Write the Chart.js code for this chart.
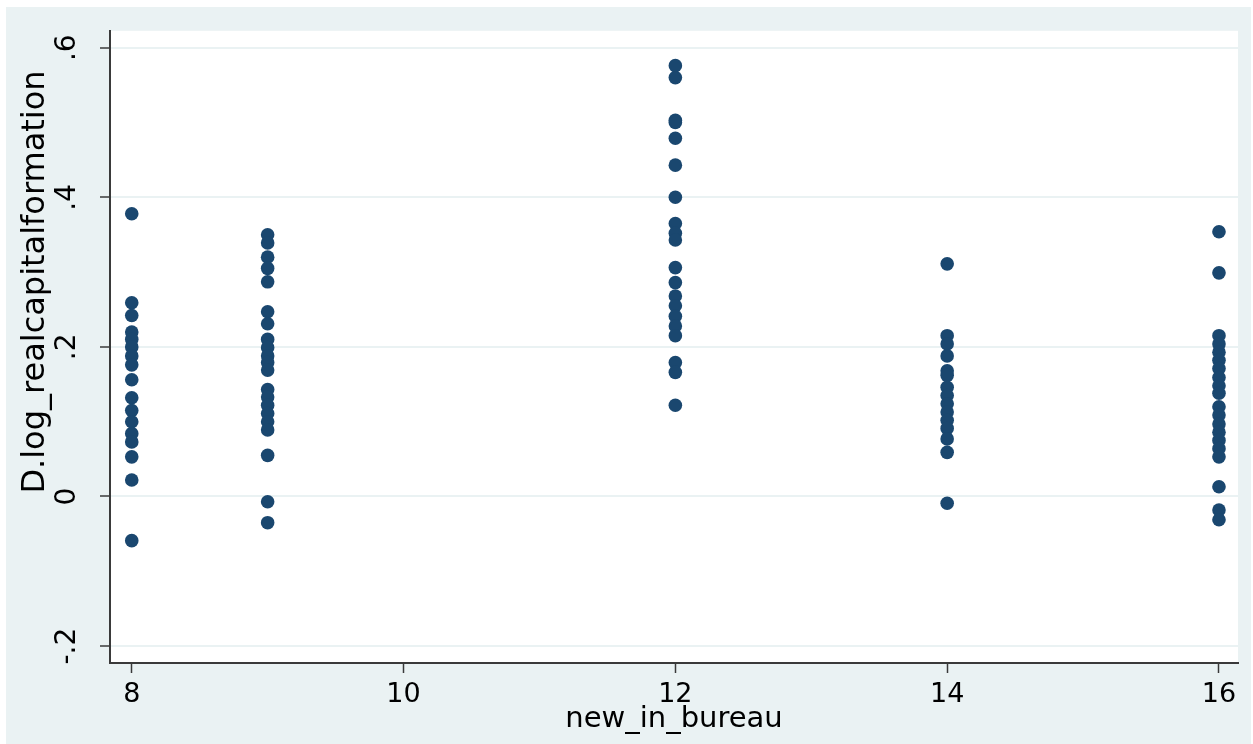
<!DOCTYPE html>
<html>
<head>
<meta charset="utf-8">
<script src="https://cdn.jsdelivr.net/npm/chart.js@4/dist/chart.umd.min.js"></script>
<style>
  body { margin: 0; background: #fff; }
  canvas { display: block; }
</style>
</head>
<body>
<canvas id="grafico" width="1253" height="744"></canvas>
<script>
// Valores (D.log_realcapitalformation por new_in_bureau)
const categoriasX = [8, 9, 12, 14, 16];
const yEn8 = [0.378, 0.259, 0.242, 0.220, 0.210, 0.200, 0.188, 0.176, 0.156, 0.132, 0.115, 0.100, 0.084, 0.073, 0.053, 0.022, -0.059];
const yEn9 = [0.350, 0.339, 0.320, 0.305, 0.287, 0.247, 0.231, 0.210, 0.199, 0.188, 0.179, 0.169, 0.143, 0.133, 0.122, 0.111, 0.100, 0.089, 0.055, -0.007, -0.035];
const yEn12 = [0.576, 0.560, 0.503, 0.500, 0.479, 0.443, 0.400, 0.365, 0.352, 0.343, 0.306, 0.286, 0.268, 0.255, 0.241, 0.228, 0.215, 0.179, 0.166, 0.122];
const yEn14 = [0.311, 0.215, 0.204, 0.188, 0.168, 0.162, 0.146, 0.135, 0.124, 0.113, 0.102, 0.091, 0.077, 0.059, -0.009];
const yEn16 = [0.354, 0.299, 0.215, 0.204, 0.193, 0.182, 0.171, 0.159, 0.148, 0.138, 0.120, 0.109, 0.097, 0.086, 0.075, 0.064, 0.053, 0.013, -0.018, -0.031];

const ticksX = [8, 10, 12, 14, 16];
const ticksY = [-0.2, 0, 0.2, 0.4, 0.6];
const etiquetasY = ['-.2', '0', '.2', '.4', '.6'];

const tituloX = 'new_in_bureau';
const tituloY = 'D.log_realcapitalformation';

// Armamos los puntos (x, y) a partir de las listas
const seriesY = [yEn8, yEn9, yEn12, yEn14, yEn16];
const puntos = [];
categoriasX.forEach((x, i) => {
    seriesY[i].forEach(y => puntos.push({ x: x, y: y }));
});

const FONDO = '#eaf2f3';
const AZUL = '#1a476f';
const EJE = '#3a3a3a';

// Fondo gris azulado y área del gráfico en blanco, además del título del eje Y
const fondoStata = {
    id: 'fondoStata',
    beforeDraw(chart) {
        const ctx = chart.ctx;
        const a = chart.chartArea;
        ctx.save();
        ctx.fillStyle = '#ffffff';
        ctx.fillRect(0, 0, chart.width, chart.height);
        ctx.fillStyle = FONDO;
        ctx.fillRect(6, 7, 1245, 737);
        ctx.fillStyle = '#ffffff';
        ctx.fillRect(a.left, a.top, a.right - a.left, a.bottom - a.top);
        ctx.restore();
    },
    afterDraw(chart) {
        const ctx = chart.ctx;
        ctx.save();
        ctx.translate(36, 282);
        ctx.rotate(-Math.PI / 2);
        ctx.font = '32px "DejaVu Sans"';
        ctx.fillStyle = '#000';
        ctx.textAlign = 'center';
        ctx.textBaseline = 'middle';
        ctx.fillText(tituloY, 0, 0);
        ctx.restore();
    }
};

new Chart(document.getElementById('grafico'), {
    type: 'scatter',
    data: {
        datasets: [{
            data: puntos,
            backgroundColor: AZUL,
            borderColor: AZUL,
            borderWidth: 0,
            pointRadius: 6.8,
            pointHoverRadius: 6.8
        }]
    },
    options: {
        responsive: false,
        animation: false,
        devicePixelRatio: 1,
        layout: { padding: { top: 27, right: 15, bottom: 0, left: 0 } },
        plugins: {
            legend: { display: false },
            tooltip: { enabled: false }
        },
        scales: {
            x: {
                type: 'linear',
                min: 7.84,
                max: 16.14,
                afterBuildTicks: (s) => { s.ticks = ticksX.map(v => ({ value: v })); },
                afterFit: (s) => { s.height = 81; },
                border: { display: true, color: EJE, width: 2 },
                grid: { drawOnChartArea: false, tickColor: EJE, tickLength: 10, tickWidth: 1.5 },
                ticks: {
                    color: '#000',
                    padding: 6,
                    maxRotation: 0,
                    font: { family: 'DejaVu Sans', size: 27 }
                },
                title: {
                    display: true,
                    text: tituloX,
                    color: '#000',
                    padding: { top: 0, bottom: 7 },
                    font: { family: 'DejaVu Sans', size: 29 }
                }
            },
            y: {
                type: 'linear',
                min: -0.2226,
                max: 0.6226,
                afterBuildTicks: (s) => { s.ticks = ticksY.map(v => ({ value: v })); },
                afterFit: (s) => { s.width = 110; },
                border: { display: true, color: EJE, width: 2 },
                grid: { color: FONDO, lineWidth: 2, tickColor: EJE, tickLength: 10, tickWidth: 1.5 },
                ticks: {
                    color: '#000',
                    padding: 14,
                    minRotation: 90,
                    maxRotation: 90,
                    crossAlign: 'center',
                    font: { family: 'DejaVu Sans', size: 28 },
                    callback: (valor, i) => etiquetasY[i]
                }
            }
        }
    },
    plugins: [fondoStata]
});
</script>
</body>
</html>
